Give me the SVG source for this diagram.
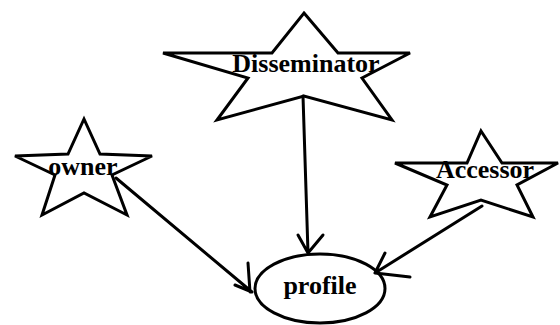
<svg xmlns="http://www.w3.org/2000/svg" width="560" height="325" viewBox="0 0 560 325">
<style>
.star{fill:#fff;stroke:#000;stroke-width:3;stroke-linejoin:miter}
.lbl{font-family:"Liberation Serif","Times New Roman",serif;font-weight:bold;font-size:26px;fill:#000;text-anchor:middle}
.edge{fill:none;stroke:#000;stroke-width:3;stroke-linecap:round;stroke-linejoin:round}
</style>
<rect width="560" height="325" fill="#fff"/>
<g id="disseminator">
<polygon class="star" points="304,13 338,53 410,53 362,78 392,120 304,96 217,120 248,78 163,53 272,53"/>
<text class="lbl" x="306" y="72">Disseminator</text>
</g>
<g id="owner">
<polygon class="star" points="84,119 100,154 152,156 112,175 127,215 84,193 42,215 55,175 15,156 68,154"/>
<text class="lbl" x="83" y="175">owner</text>
</g>
<g id="accessor">
<polygon class="star" points="481,131 502,163 558,163 517,185 533,217 481,200 430,217 447,185 395,163 467,163"/>
<text class="lbl" x="485" y="178">Accessor</text>
</g>
<g id="profile">
<ellipse cx="320" cy="288.5" rx="65" ry="34.5" fill="#fff" stroke="#000" stroke-width="3"/>
<text class="lbl" x="320" y="294">profile</text>
</g>
<g id="connectors">
<path class="edge" d="M303,96 L308,253 M298,235 L308,253 L323,235"/>
<path class="edge" d="M116,178 L252,292 M248,263 L250,292 L252,292 M235,285 L252,292"/>
<path class="edge" d="M482,206 L375,273 M385,253 L375,273 L410,277"/>
</g>
</svg>
